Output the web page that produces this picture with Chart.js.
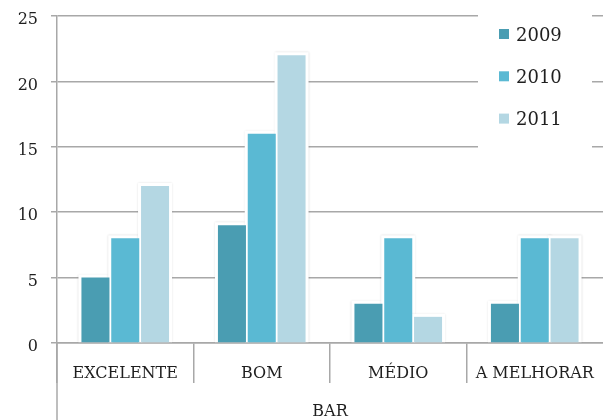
<!DOCTYPE html>
<html>
<head>
<meta charset="utf-8">
<script src="https://cdn.jsdelivr.net/npm/chart.js@4/dist/chart.umd.min.js"></script>
<style>
  html, body { margin: 0; padding: 0; background: #fff; }
  #wrap { width: 603px; height: 420px; position: relative; }
</style>
</head>
<body>
<div id="wrap"><canvas id="c" width="603" height="420"></canvas></div>
<script>
// Avaliação do bar por categoria, 2009–2011
const categories = ['EXCELENTE', 'BOM', 'MÉDIO', 'A MELHORAR'];
const years = ['2009', '2010', '2011'];
const values2009 = [5, 9, 3, 3];
const values2010 = [8, 16, 8, 8];
const values2011 = [12, 22, 2, 8];
const yTicks = [0, 5, 10, 15, 20, 25];
const axisTitle = 'BAR';

const colors = ['#4a9db2', '#5ab9d3', '#b4d7e3'];
const gridColor = '#a8a8a8';
const textColor = '#1f1f1f';
const serif = '"DejaVu Serif", "Liberation Serif", serif';

// White halo with a faint shadow behind each bar
const barHalo = {
  id: 'barHalo',
  beforeDatasetsDraw(chart) {
    const ctx = chart.ctx;
    ctx.save();
    chart.data.datasets.forEach((ds, i) => {
      const meta = chart.getDatasetMeta(i);
      meta.data.forEach(bar => {
        const p = bar.getProps(['x', 'y', 'base', 'width'], true);
        const l = p.x - p.width / 2 - 3;
        const w = p.width + 6;
        const top = Math.min(p.y, p.base) - 3;
        const h = Math.abs(p.base - p.y) + 3;
        ctx.shadowColor = 'rgba(0,0,0,0.12)';
        ctx.shadowBlur = 2;
        ctx.fillStyle = '#ffffff';
        ctx.fillRect(l, top, w, h);
      });
    });
    ctx.restore();
  }
};

// Extends the outer category boundary (left edge) down to the bottom
const outerDivider = {
  id: 'outerDivider',
  afterDraw(chart) {
    const ctx = chart.ctx;
    const a = chart.chartArea;
    ctx.save();
    ctx.strokeStyle = gridColor;
    ctx.lineWidth = 1.5;
    ctx.beginPath();
    ctx.moveTo(a.left, a.bottom);
    ctx.lineTo(a.left, chart.height);
    ctx.stroke();
    ctx.restore();
  }
};

// Legend drawn over the upper right of the plot on a white panel
const panelLegend = {
  id: 'panelLegend',
  afterDraw(chart) {
    const ctx = chart.ctx;
    ctx.save();
    ctx.fillStyle = '#ffffff';
    ctx.fillRect(478, 4, 114, 152);
    ctx.font = '18px ' + serif;
    ctx.textBaseline = 'middle';
    ctx.textAlign = 'left';
    chart.data.datasets.forEach((ds, i) => {
      const cy = 34 + i * 42.3;
      ctx.fillStyle = ds.backgroundColor;
      ctx.fillRect(499, cy - 5, 10, 10);
      ctx.fillStyle = textColor;
      ctx.fillText(ds.label, 516, cy + 2);
    });
    ctx.restore();
  }
};

const datasets = [values2009, values2010, values2011].map((vals, i) => ({
  label: years[i],
  data: vals,
  backgroundColor: colors[i],
  borderWidth: 0,
  categoryPercentage: 0.655,
  barPercentage: 0.94
}));

new Chart(document.getElementById('c'), {
  type: 'bar',
  data: { labels: categories, datasets },
  plugins: [barHalo, outerDivider, panelLegend],
  options: {
    responsive: false,
    animation: false,
    devicePixelRatio: 1,
    layout: { padding: { top: 16, right: 0, bottom: 0, left: 0 } },
    plugins: { legend: { display: false }, tooltip: { enabled: false } },
    scales: {
      x: {
        grid: {
          offset: true,
          drawOnChartArea: false,
          drawTicks: true,
          tickLength: 40,
          // the closing boundary after the last category is left undrawn
          color: (c) => (c.type === 'tick' ? gridColor : 'rgba(0,0,0,0)'),
          lineWidth: 1.5
        },
        border: { display: true, color: gridColor, width: 1.5 },
        ticks: {
          color: textColor,
          font: { family: serif, size: 16 },
          padding: -19,
          maxRotation: 0,
          autoSkip: false
        },
        title: {
          display: true,
          text: axisTitle,
          color: textColor,
          font: { family: serif, size: 16, lineHeight: 1.05 },
          padding: { top: 0, bottom: 0 }
        },
        afterFit(scale) {
          scale.height = 77;
          scale.paddingLeft = 0;
          scale.paddingRight = 0;
        }
      },
      y: {
        min: 0,
        max: 25,
        afterBuildTicks(scale) { scale.ticks = yTicks.map(v => ({ value: v })); },
        grid: {
          color: gridColor,
          lineWidth: 1.5,
          tickLength: 6
        },
        border: { display: true, color: gridColor, width: 1.5 },
        ticks: {
          color: textColor,
          font: { family: serif, size: 16 },
          padding: 13,
          labelOffset: 4
        },
        afterFit(scale) {
          scale.width = 57;
          scale.paddingTop = 0;
          scale.paddingBottom = 0;
        }
      }
    }
  }
});
</script>
</body>
</html>
